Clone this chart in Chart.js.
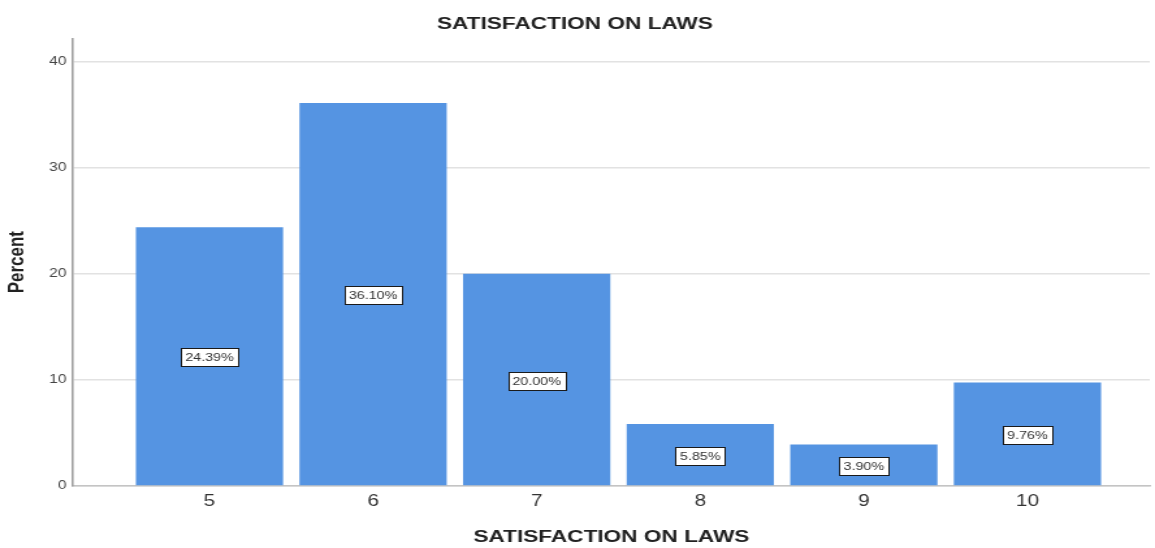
<!DOCTYPE html>
<html><head><meta charset="utf-8">
<script src="https://cdn.jsdelivr.net/npm/chart.js@4"></script>
<style>
html,body{margin:0;padding:0;background:#fff;overflow:hidden}
#wrap{width:888px;height:548px;transform:scaleX(1.30068);transform-origin:0 0}
canvas{display:block}
</style></head>
<body><div id="wrap"><canvas id="c" width="888" height="548"></canvas></div>
<script>
const chartTitle = 'SATISFACTION ON LAWS';
const xAxisTitle = 'SATISFACTION ON LAWS';
const yAxisTitle = 'Percent';
const categories = [5, 6, 7, 8, 9, 10];
const percentValues = [24.39, 36.10, 20.00, 5.85, 3.90, 9.76];
const yTickValues = [0, 10, 20, 30, 40];

const FONT = '"Liberation Sans", Arial, sans-serif';

const valueLabelPlugin = {
  id: 'valueLabels',
  afterDatasetsDraw(chart) {
    const ctx = chart.ctx;
    const meta = chart.getDatasetMeta(0);
    ctx.save();
    ctx.font = '11px ' + FONT;
    ctx.textAlign = 'center';
    ctx.textBaseline = 'middle';
    meta.data.forEach((bar, i) => {
      const txt = percentValues[i].toFixed(2) + '%';
      const cy = (bar.y + bar.base) / 2 + 1;
      const w = Math.round(ctx.measureText(txt).width + 7);
      const h = 18;
      const x0 = Math.round(bar.x - w / 2) + 0.5, y0 = Math.round(cy - h / 2) + 0.5;
      ctx.fillStyle = '#ffffff';
      ctx.fillRect(x0, y0, w, h);
      ctx.strokeStyle = '#1a1a1a';
      ctx.lineWidth = 1;
      ctx.strokeRect(x0, y0, w, h);
      ctx.fillStyle = '#333333';
      ctx.fillText(txt, bar.x, y0 + h / 2 + 0.5);
    });
    ctx.restore();
  }
};

new Chart(document.getElementById('c'), {
  type: 'bar',
  data: {
    datasets: [{
      label: yAxisTitle,
      data: categories.map((c, i) => ({ x: c, y: percentValues[i] })),
      backgroundColor: 'rgb(85,148,226)',
      borderWidth: 0,
      barPercentage: 0.9,
      categoryPercentage: 1.0
    }]
  },
  options: {
    responsive: false,
    animation: false,
    devicePixelRatio: 1,
    layout: { padding: { left: 0, right: 4, top: 0, bottom: 0 } },
    plugins: {
      legend: { display: false },
      tooltip: { enabled: false },
      title: {
        display: true,
        text: chartTitle,
        color: '#222',
        font: { family: FONT, size: 17.4, weight: 'bold' },
        padding: { top: 14, bottom: 3.5 }
      }
    },
    scales: {
      x: {
        type: 'linear',
        offset: false,
        min: 4.1655,
        max: 10.748,
        afterBuildTicks: s => { s.ticks = categories.map(v => ({ value: v })); },
        afterFit: s => { s.height = 62; },
        grid: { display: false, drawTicks: false },
        border: { display: true, color: '#c4c4c4', width: 1.5 },
        ticks: { color: '#333', font: { family: FONT, size: 16 }, padding: 6, autoSkip: false, maxRotation: 0 },
        title: {
          display: true,
          text: xAxisTitle,
          color: '#222',
          font: { family: FONT, size: 17.4, weight: 'bold' },
          padding: { top: 0, bottom: 0 }
        }
      },
      y: {
        min: 0,
        max: 42.18,
        afterBuildTicks: s => { s.ticks = yTickValues.map(v => ({ value: v })); },
        afterFit: s => { s.width = 56.1; },
        grid: { color: '#e2e2e2', lineWidth: 1.5, drawTicks: false },
        border: { display: true, color: '#a0a0a0', width: 1.6 },
        ticks: { color: '#444', font: { family: FONT, size: 12 }, padding: 5 },
        title: {
          display: true,
          text: yAxisTitle,
          color: '#222',
          font: { family: FONT, size: 17, weight: 'bold' },
          padding: { top: 3, bottom: 0 }
        }
      }
    }
  },
  plugins: [valueLabelPlugin]
});
</script>
</body></html>
